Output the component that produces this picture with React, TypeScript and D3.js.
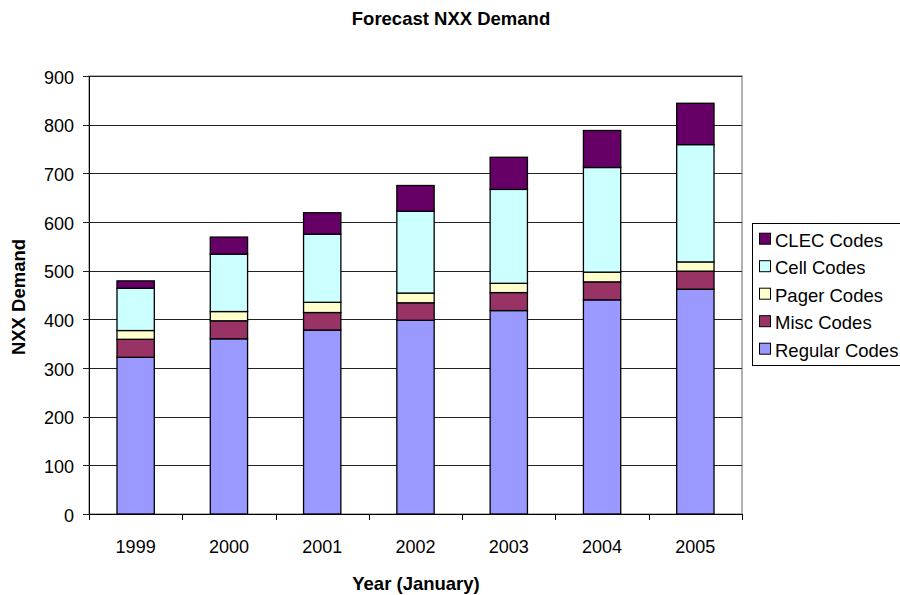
import React from "react";
import * as d3 from "d3";

const years = ["1999", "2000", "2001", "2002", "2003", "2004", "2005"];
const regularCodes = [322, 360, 378, 398, 418, 440, 462];
const miscCodes = [37, 37, 36, 36, 37, 37, 37];
const pagerCodes = [18, 19, 21, 20, 19, 20, 19];
const cellCodes = [87, 118, 140, 168, 193, 215, 241];
const clecCodes = [15, 35, 44, 53, 66, 76, 85];
const yTicks = [0, 100, 200, 300, 400, 500, 600, 700, 800, 900];

const seriesNames = ["Regular Codes", "Misc Codes", "Pager Codes", "Cell Codes", "CLEC Codes"];
const seriesColors = ["#9999ff", "#993366", "#ffffcc", "#ccffff", "#660066"];

const width = 900;
const height = 595;
const plot = { left: 89, right: 742, top: 76, bottom: 514 };
const font = "Arial, 'Liberation Sans', sans-serif";

export default function App() {
  const rows = years.map((year, i) => ({
    year,
    "Regular Codes": regularCodes[i],
    "Misc Codes": miscCodes[i],
    "Pager Codes": pagerCodes[i],
    "Cell Codes": cellCodes[i],
    "CLEC Codes": clecCodes[i],
  }));
  const stacked = d3.stack<any>().keys(seriesNames)(rows);

  const x = d3.scaleBand().domain(years).range([plot.left, plot.right]).paddingInner(0.6).paddingOuter(0.3);
  const band = d3.scaleBand().domain(years).range([plot.left, plot.right]);
  const y = d3.scaleLinear().domain([0, 900]).range([plot.bottom, plot.top]);

  const boundaries = years.map((yr) => band(yr) as number).concat([plot.right]);

  return (
    <svg width={width} height={height} style={{ position: "absolute", left: 0, top: 0, background: "#fff" }}>
      <text x={451} y={25} textAnchor="middle" fontFamily={font} fontSize={18.5} fontWeight="bold">
        Forecast NXX Demand
      </text>

      {/* plot frame and gridlines */}
      <rect x={plot.left} y={plot.top} width={plot.right - plot.left} height={plot.bottom - plot.top} fill="none" stroke="#999" strokeWidth={1.5} />
      {yTicks.map((t) => (
        <g key={t}>
          <line x1={plot.left - 6} x2={plot.right} y1={Math.round(y(t)) + 0.5} y2={Math.round(y(t)) + 0.5} stroke="#222" strokeWidth={1} />
          <text x={plot.left - 15} y={y(t) + 7.5} textAnchor="end" fontFamily={font} fontSize={18}>
            {t}
          </text>
        </g>
      ))}

      {/* bars */}
      {stacked.map((layer, si) => (
        <g key={seriesNames[si]} fill={seriesColors[si]} stroke="#000" strokeWidth={1.3}>
          {layer.map((d, i) => (
            <rect
              key={years[i]}
              x={x(years[i])}
              y={y(d[1])}
              width={x.bandwidth()}
              height={y(d[0]) - y(d[1])}
            />
          ))}
        </g>
      ))}

      {/* axes */}
      <line x1={plot.left + 0.5} x2={plot.left + 0.5} y1={plot.top} y2={plot.bottom} stroke="#000" />
      <line x1={plot.left} x2={plot.right} y1={plot.bottom + 0.5} y2={plot.bottom + 0.5} stroke="#000" />
      {boundaries.map((bx, i) => (
        <line key={i} x1={Math.round(bx) + 0.5} x2={Math.round(bx) + 0.5} y1={plot.bottom} y2={plot.bottom + 6} stroke="#000" />
      ))}
      {years.map((yr) => (
        <text key={yr} x={(x(yr) as number) + x.bandwidth() / 2} y={553} textAnchor="middle" fontFamily={font} fontSize={18}>
          {yr}
        </text>
      ))}

      <text x={416} y={590} textAnchor="middle" fontFamily={font} fontSize={18.5} fontWeight="bold">
        Year (January)
      </text>
      <text transform="translate(25 297) rotate(-90)" textAnchor="middle" fontFamily={font} fontSize={18.5} fontWeight="bold">
        NXX Demand
      </text>

      {/* legend */}
      <rect x={752.5} y={223.5} width={160} height={142} fill="#fff" stroke="#000" />
      {seriesNames
        .slice()
        .reverse()
        .map((name, i) => {
          const idx = seriesNames.indexOf(name);
          const base = 246.7 + i * 27.5;
          return (
            <g key={name}>
              <rect x={759.5} y={base - 13.5} width={11} height={11} fill={seriesColors[idx]} stroke="#000" />
              <text x={775} y={base} fontFamily={font} fontSize={18.5}>
                {name}
              </text>
            </g>
          );
        })}
    </svg>
  );
}
